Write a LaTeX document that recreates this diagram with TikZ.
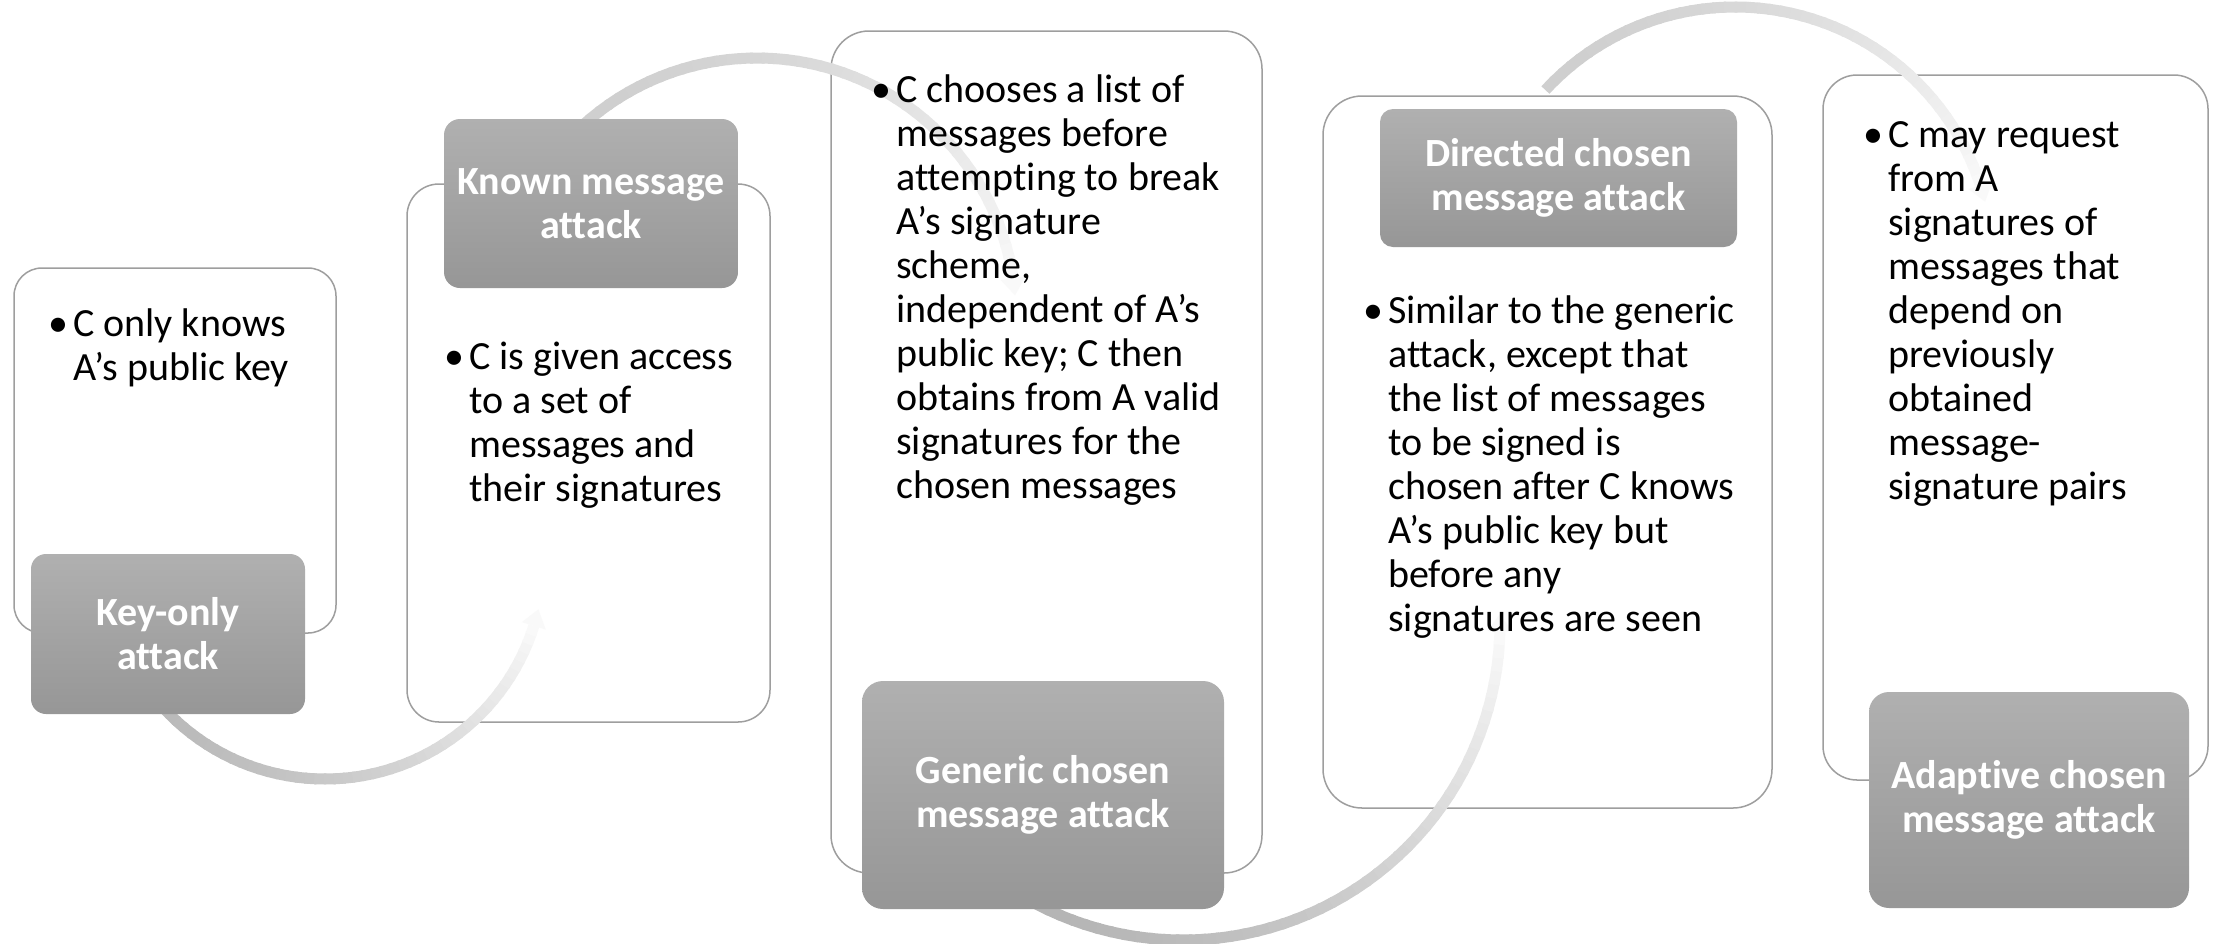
\documentclass[tikz,border=0pt]{standalone}
\usepackage{fontspec}
\setmainfont{Carlito}[Ligatures=NoCommon]
\colorlet{boxline}{black!38}
\colorlet{tagtop}{black!31}
\colorlet{tagbot}{black!41}

% A thick arc whose grey fades out towards its arrow tip.
% #1,#2 centre; #3 radius; #4 start angle; #5 angle of the tip base;
% #6,#7 start/end shade (percent black); #8 angle of the tip point.
\newcommand{\fadingarc}[8]{%
  \foreach \k in {0,...,47}{%
    \pgfmathsetmacro{\ta}{#4+(#5-#4)*\k/48}%
    \pgfmathsetmacro{\tb}{#4+(#5-#4)*min(\k+1.25,48)/48}%
    \pgfmathsetmacro{\sh}{#6-(#6-#7)*((\k/47)^1.6)}%
    \draw[line width=11pt, draw=black!\sh]
      ({#1+#3*cos(\ta)},{#2+#3*sin(\ta)}) arc[start angle=\ta, end angle=\tb, radius=#3];
  }%
  \fill[black!#7]
    ({#1+(#3-12.5)*cos(#5)},{#2+(#3-12.5)*sin(#5)}) --
    ({#1+(#3+12.5)*cos(#5)},{#2+(#3+12.5)*sin(#5)}) --
    ({#1+#3*cos(#8)},{#2+#3*sin(#8)}) -- cycle;
}

\newcommand{\bodyfont}{\fontsize{40pt}{44pt}\selectfont}
\newcommand{\bul}{\leavevmode\llap{\textbullet\hspace{5pt}}}

\begin{document}
\begin{tikzpicture}[x=1pt,y=-1pt,
  infobox/.style={draw=boxline, line width=1.5pt, fill=white, inner sep=0pt},
  tagbox/.style={top color=tagtop, bottom color=tagbot, draw=none, text=white,
    align=center, inner sep=0pt, font=\bodyfont\bfseries},
  bodytext/.style={anchor=base west, inner sep=0pt, text=black, font=\bodyfont}]
\useasboundingbox (0,0) rectangle (2216,943);

% description panels
\node[infobox, rounded corners=28pt, minimum width=322pt, minimum height=365pt] (b1) at (175,450.5) {};
\node[infobox, rounded corners=32pt, minimum width=363pt, minimum height=538pt] (b2) at (588.5,453) {};
\node[infobox, rounded corners=38pt, minimum width=431pt, minimum height=842pt] (b3) at (1046.5,452) {};
\node[infobox, rounded corners=39pt, minimum width=449pt, minimum height=712pt] (b4) at (1547.5,452) {};
\node[infobox, rounded corners=34pt, minimum width=385pt, minimum height=705pt] (b5) at (2015.5,427.5) {};

% connecting arcs between the attack types
\fadingarc{325}{560}{219}{138}{17.5}{27}{2.5}{13}
\fadingarc{757}{317}{259}{-133}{-8.6}{19}{2.5}{-4.8}
\fadingarc{1183}{623}{317}{118}{1.5}{29}{2.5}{-1.6}
\fadingarc{1735}{265}{258}{-137.3}{-18}{19}{2.5}{-14.2}

% attack type tags
\node[tagbox, rounded corners=15pt, minimum width=274pt, minimum height=160pt] (l1) at (168,634) {Key-only\\attack};
\node[tagbox, rounded corners=16pt, minimum width=294pt, minimum height=169pt] (l2) at (591,203.5) {Known message\\attack};
\node[tagbox, rounded corners=21pt, minimum width=362pt, minimum height=228pt] (l3) at (1043,795) {Generic chosen\\message attack};
\node[tagbox, rounded corners=13pt, minimum width=357pt, minimum height=138pt] (l4) at (1558.5,178) {Directed chosen\\message attack};
\node[tagbox, rounded corners=20pt, minimum width=320pt, minimum height=216pt] (l5) at (2029,800) {Adaptive chosen\\message attack};

% descriptions
\node[bodytext] (t1) at (73,336) {\parbox[t]{300pt}{\raggedright
  \bul C only knows\\A’s public key}};
\node[bodytext] (t2) at (469,369) {\parbox[t]{320pt}{\raggedright
  \bul C is given access\\to a set of\\messages and\\their signatures}};
\node[bodytext] (t3) at (896,102) {\parbox[t]{360pt}{\raggedright
  \bul C chooses a list of\\messages before\\attempting to break\\A’s signature\\scheme,\\independent of A’s\\public key; C then\\obtains from A valid\\signatures for the\\chosen messages}};
\node[bodytext] (t4) at (1388,323) {\parbox[t]{380pt}{\raggedright
  \bul Similar to the generic\\attack, except that\\the list of messages\\to be signed is\\chosen after C knows\\A’s public key but\\before any\\signatures are seen}};
\node[bodytext] (t5) at (1888,147) {\parbox[t]{320pt}{\raggedright
  \bul C may request\\from A\\signatures of\\messages that\\depend on\\previously\\obtained\\message-\\signature pairs}};
\end{tikzpicture}
\end{document}
